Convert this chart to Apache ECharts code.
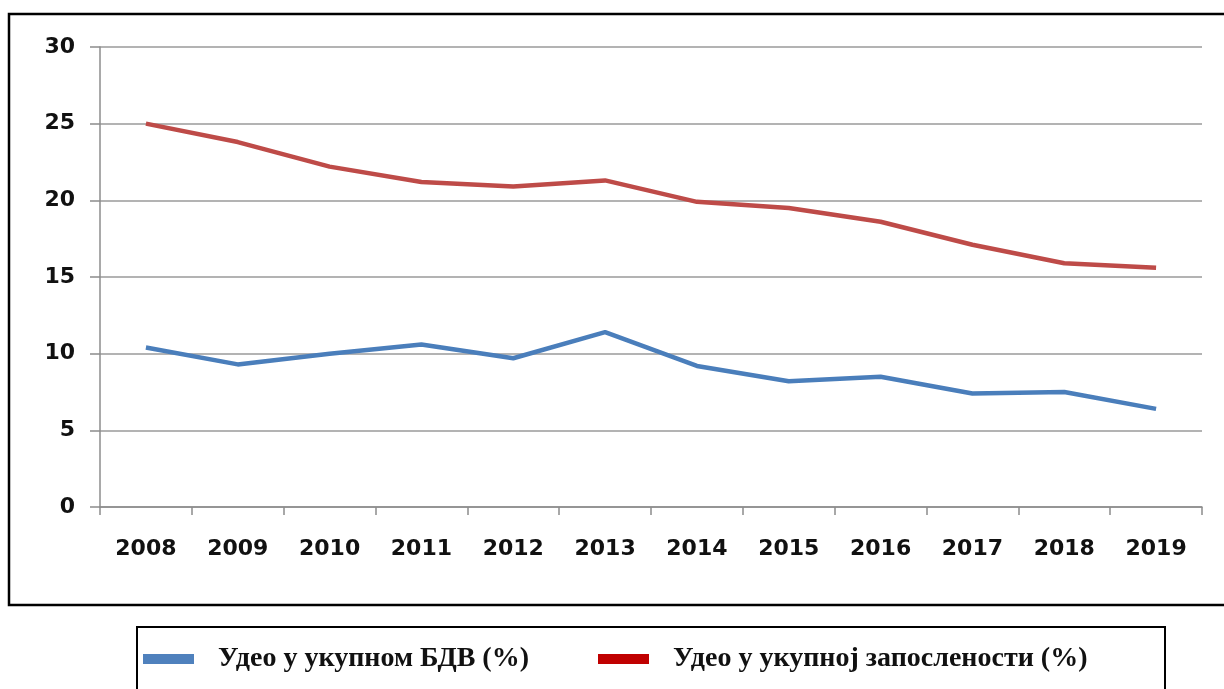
<!DOCTYPE html>
<html>
<head>
<meta charset="utf-8">
<script src="https://cdn.jsdelivr.net/npm/echarts@6/dist/echarts.min.js"></script>
<style>
html,body{margin:0;padding:0;background:#fff;}
#chart{width:1224px;height:689px;}
</style>
</head>
<body>
<div id="chart"></div>
<script>
const years = ['2008','2009','2010','2011','2012','2013','2014','2015','2016','2017','2018','2019'];
const shareGVA = [10.4, 9.3, 10.0, 10.6, 9.7, 11.4, 9.2, 8.2, 8.5, 7.4, 7.5, 6.4];
const shareEmployment = [25.0, 23.8, 22.2, 21.2, 20.9, 21.3, 19.9, 19.5, 18.6, 17.1, 15.9, 15.6];
const seriesNames = ['Удео у укупном БДВ (%)', 'Удео у укупној запослености (%)'];
const yMin = 0, yMax = 30, yStep = 5;

const chart = echarts.init(document.getElementById('chart'), null, {renderer:'canvas'});
const axisFont = {fontFamily:'DejaVu Sans', fontWeight:'bold', fontSize:22, color:'#111'};
const legendText = {fontFamily:'Liberation Serif', fontWeight:'bold', fontSize:28, color:'#111', padding:[0,0,0,19]};
chart.setOption({
  animation:false,
  backgroundColor:'#fff',
  graphic:[
    {type:'rect', z:-1, shape:{x:9,y:14,width:1240,height:591}, style:{fill:'none', stroke:'#000', lineWidth:2.5}},
    {type:'rect', z:-1, shape:{x:137,y:627,width:1028,height:90}, style:{fill:'none', stroke:'#000', lineWidth:2}}
  ],
  grid:{left:100, right:22, top:47, bottom:182, containLabel:false},
  legend:[
    {left:138, top:640, itemWidth:51, itemHeight:10, icon:'rect', textStyle:legendText,
     data:[{name:seriesNames[0], itemStyle:{color:'#4f81bd'}}]},
    {left:593, top:640, itemWidth:51, itemHeight:10, icon:'rect', textStyle:legendText,
     data:[{name:seriesNames[1], itemStyle:{color:'#c00000'}}]}
  ],
  xAxis:{
    type:'category', data:years, boundaryGap:true,
    axisLine:{lineStyle:{color:'#8c8c8c', width:1.5}},
    axisTick:{show:true, length:8, lineStyle:{color:'#8c8c8c', width:1.5}},
    axisLabel:Object.assign({margin:31}, axisFont)
  },
  yAxis:{
    type:'value', min:yMin, max:yMax, interval:yStep,
    axisLine:{show:true, lineStyle:{color:'#8c8c8c', width:1.5}},
    axisTick:{show:true, length:10, lineStyle:{color:'#8c8c8c', width:1.5}},
    splitLine:{lineStyle:{color:'#9a9a9a', width:1.5}},
    axisLabel:Object.assign({margin:25}, axisFont)
  },
  series:[
    {name:seriesNames[0], type:'line', data:shareGVA, symbol:'none', smooth:false,
     lineStyle:{color:'#4a7ebb', width:4.5}, itemStyle:{color:'#4a7ebb'}},
    {name:seriesNames[1], type:'line', data:shareEmployment, symbol:'none', smooth:false,
     lineStyle:{color:'#be4b48', width:4.5}, itemStyle:{color:'#be4b48'}}
  ]
});
</script>
</body>
</html>
